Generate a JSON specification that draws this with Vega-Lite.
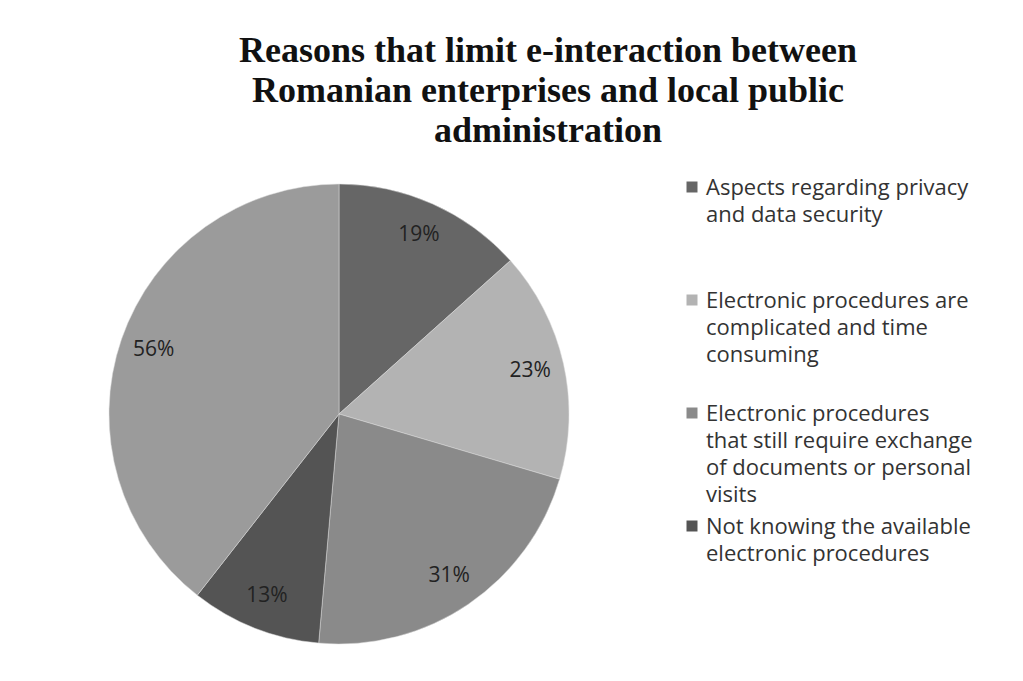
{
  "$schema": "https://vega.github.io/schema/vega-lite/v6.json",
  "autosize": "none",
  "width": 678,
  "height": 428,
  "padding": {"left": 0, "top": 200, "right": 345, "bottom": 53},
  "background": "white",
  "title": {
    "text": ["Reasons that limit e-interaction between", "Romanian enterprises and local public", "administration"],
    "font": "Liberation Serif",
    "fontSize": 36,
    "fontWeight": "bold",
    "lineHeight": 40,
    "color": "#111111",
    "anchor": "middle",
    "dx": 209,
    "offset": 26
  },
  "data": {
    "values": [
      {"category": "Aspects regarding privacy and data security", "value": 19, "label": "19%"},
      {"category": "Electronic procedures are complicated and time consuming", "value": 23, "label": "23%"},
      {"category": "Electronic procedures that still require exchange of documents or personal visits", "value": 31, "label": "31%"},
      {"category": "Not knowing the available electronic procedures", "value": 13, "label": "13%"},
      {"category": "Other", "value": 56, "label": "56%"}
    ]
  },
  "encoding": {
    "theta": {"field": "value", "type": "quantitative", "stack": true},
    "order": {"field": "order", "type": "quantitative"}
  },
  "transform": [{"window": [{"op": "row_number", "as": "order"}]}],
  "layer": [
    {
      "mark": {"type": "arc", "radius": 230, "stroke": "#dddddd", "strokeWidth": 0.5},
      "encoding": {
        "color": {
          "field": "category",
          "type": "nominal",
          "sort": null,
          "scale": {
            "domain": [
              "Aspects regarding privacy and data security",
              "Electronic procedures are complicated and time consuming",
              "Electronic procedures that still require exchange of documents or personal visits",
              "Not knowing the available electronic procedures",
              "Other"
            ],
            "range": ["#666666", "#b3b3b3", "#8a8a8a", "#545454", "#9b9b9b"]
          },
          "legend": {
            "title": null,
            "orient": "none",
            "legendX": 681,
            "legendY": -24,
            "columns": 1,
            "gridAlign": "all",
            "rowPadding": 9,
            "symbolType": "square",
            "symbolSize": 121,
            "symbolStrokeWidth": 0,
            "symbolOffset": 0,
            "labelFont": "Open Sans",
            "labelFontSize": 22,
            "labelColor": "#333333",
            "labelBaseline": "top",
            "labelLimit": 400,
            "labelOffset": 3,
            "values": [
              "Aspects regarding privacy and data security",
              "Electronic procedures are complicated and time consuming",
              "Electronic procedures that still require exchange of documents or personal visits",
              "Not knowing the available electronic procedures"
            ],
            "labelExpr": "datum.label == 'Aspects regarding privacy and data security' ? ['Aspects regarding privacy', 'and data security'] : datum.label == 'Electronic procedures are complicated and time consuming' ? ['Electronic procedures are', 'complicated and time', 'consuming'] : datum.label == 'Electronic procedures that still require exchange of documents or personal visits' ? ['Electronic procedures', 'that still require exchange', 'of documents or personal', 'visits'] : ['Not knowing the available', 'electronic procedures']"
          }
        }
      }
    },
    {
      "mark": {"type": "text", "radius": 196, "font": "Open Sans", "fontSize": 21, "color": "#222222"},
      "encoding": {
        "text": {"field": "label", "type": "nominal"}
      }
    }
  ],
  "config": {
    "view": {"stroke": null},
    "style": {"guide-label": {"lineHeight": 27, "dy": -9}}
  }
}
